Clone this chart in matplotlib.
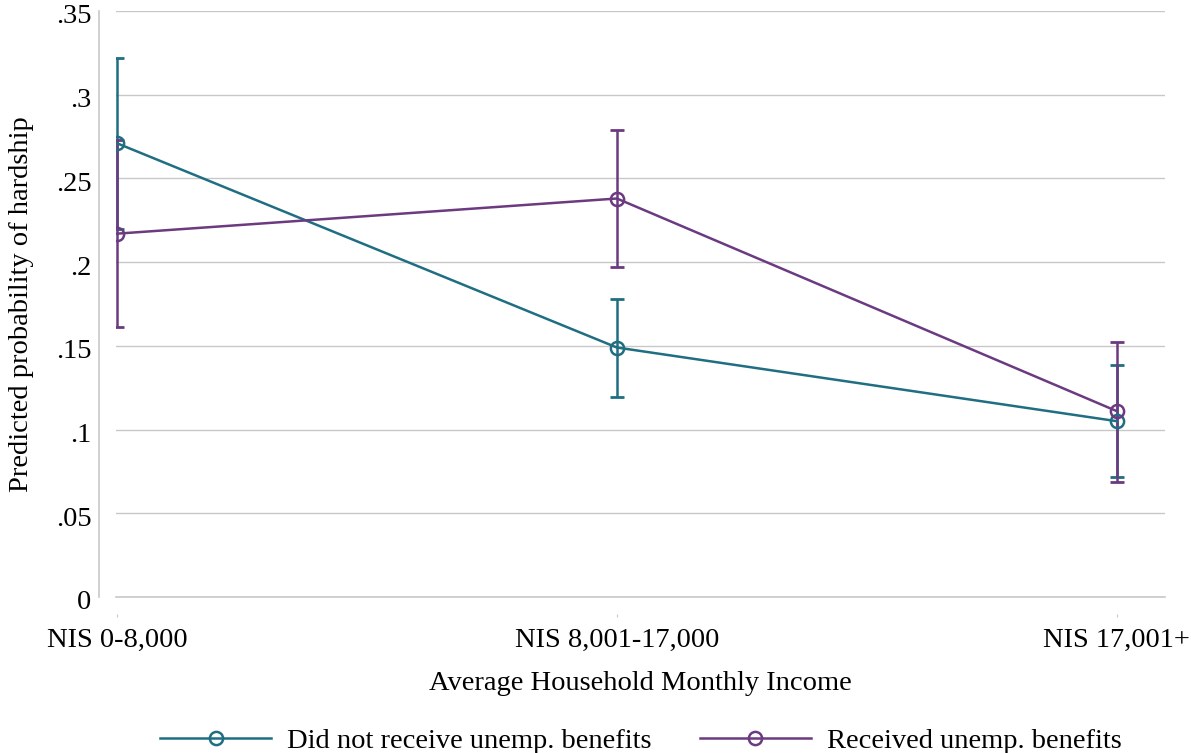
import matplotlib.pyplot as plt
import matplotlib.transforms as mtransforms

plt.rcParams["font.family"] = ["Liberation Serif", "DejaVu Serif"]

# Predicted probabilities with 95% CIs by income group
income_groups = ["NIS 0-8,000", "NIS 8,001-17,000", "NIS 17,001+"]
no_benefit = [0.271, 0.149, 0.105]
no_benefit_lo = [0.220, 0.1195, 0.0717]
no_benefit_hi = [0.322, 0.178, 0.1386]
benefit = [0.217, 0.238, 0.111]
benefit_lo = [0.161, 0.197, 0.0687]
benefit_hi = [0.273, 0.279, 0.1523]
yticks = [0, 0.05, 0.1, 0.15, 0.2, 0.25, 0.3, 0.35]
ytick_labels = ["0", ".05", ".1", ".15", ".2", ".25", ".3", ".35"]

teal = "#1f6e82"
purple = "#6b3a80"
grid_col = "#c8c8c8"
fs = 20.5

fig = plt.figure(figsize=(11.91, 7.53), dpi=100)
ax = fig.add_axes([0.0974, 0.2072, 0.8806, 0.7782])

x = list(range(len(income_groups)))

def draw_series(vals, lo, hi, color, label):
    yerr = [[v - l for v, l in zip(vals, lo)], [h - v for v, h in zip(vals, hi)]]
    ax.errorbar(x, vals, yerr=yerr, fmt="none", ecolor=color, elinewidth=1.8,
                capsize=5.2, capthick=2.0, zorder=3)
    ax.plot(x, vals, color=color, lw=1.8, marker="o", markersize=9.5,
            markerfacecolor="none", markeredgecolor=color, markeredgewidth=1.8,
            label=label, zorder=4)

draw_series(no_benefit, no_benefit_lo, no_benefit_hi, teal,
            "Did not receive unemp. benefits")
draw_series(benefit, benefit_lo, benefit_hi, purple,
            "Received unemp. benefits")

ax.set_xlim(-0.002, 2.096)
ax.set_ylim(0, 0.35)
ax.set_xticks(x)
ax.set_xticklabels(income_groups)
ax.set_yticks(yticks)
ax.set_yticklabels(ytick_labels)

ax.grid(axis="y", color=grid_col, lw=1.0)
ax.set_axisbelow(True)
ax.axhline(0, color=grid_col, lw=1.2, clip_on=False, zorder=0.6)

for side in ["top", "right"]:
    ax.spines[side].set_visible(False)
ax.spines["left"].set_position(("outward", 12.2))
ax.spines["left"].set_color(grid_col)
ax.spines["left"].set_linewidth(1.2)
ax.spines["bottom"].set_position(("outward", 12.2))
ax.spines["bottom"].set_visible(False)

ax.tick_params(axis="y", length=0, pad=5.5, labelsize=fs)
ax.tick_params(axis="x", length=2, color=grid_col, pad=8, labelsize=fs)

# y labels sit a touch below their gridlines
shift = mtransforms.ScaledTranslation(0, -3 / 100, fig.dpi_scale_trans)
for lbl in ax.get_yticklabels():
    lbl.set_transform(lbl.get_transform() + shift)

ax.set_ylabel("Predicted probability of hardship", fontsize=fs, labelpad=16)
ax.set_xlabel("Average Household Monthly Income", fontsize=fs, labelpad=13)

fig.legend(loc="lower center", bbox_to_anchor=(0.538, -0.035), ncol=2,
           frameon=False, fontsize=fs, handlelength=3.9, handletextpad=0.55,
           columnspacing=1.7)

fig.savefig("out.png", dpi=100)
